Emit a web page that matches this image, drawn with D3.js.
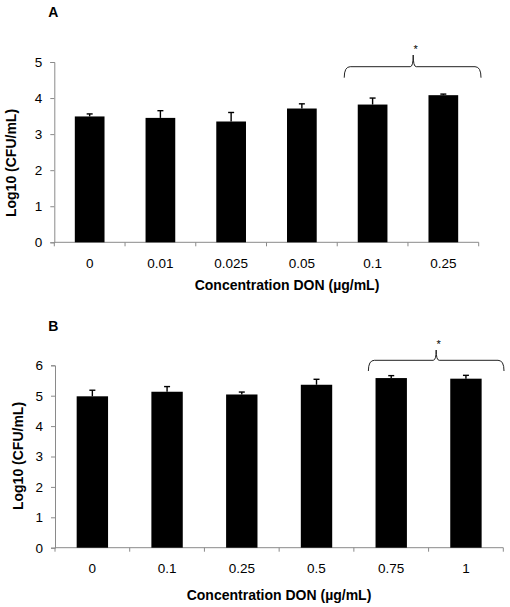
<!DOCTYPE html>
<html>
<head>
<meta charset="utf-8">
<script src="https://cdn.jsdelivr.net/npm/d3@7"></script>
<style>
  html, body { margin: 0; padding: 0; background: #fff; }
  svg { display: block; }
  text { font-family: "Liberation Sans", Arial, sans-serif; fill: #000; }
</style>
</head>
<body>
<svg id="chart" width="510" height="607"></svg>
<script>
// ---- Data ----
const categoriesA = ["0", "0.01", "0.025", "0.05", "0.1", "0.25"];
const meansA      = [3.49, 3.45, 3.35, 3.71, 3.82, 4.08];
const errorsA     = [0.07, 0.20, 0.25, 0.13, 0.18, 0.03];
const yTicksA     = [0, 1, 2, 3, 4, 5];

const categoriesB = ["0", "0.1", "0.25", "0.5", "0.75", "1"];
const meansB      = [4.98, 5.13, 5.04, 5.36, 5.58, 5.56];
const errorsB     = [0.20, 0.17, 0.08, 0.18, 0.08, 0.11];
const yTicksB     = [0, 1, 2, 3, 4, 5, 6];

const panelLabels = ["A", "B"];
const xTitle = "Concentration DON (µg/mL)";
const yTitle = "Log10 (CFU/mL)";
const sigGroupA = ["0.1", "0.25"];
const sigGroupB = ["0.75", "1"];

const svg = d3.select("#chart");

function drawPanel(cfg) {
  const g = svg.append("g");
  const x = d3.scaleBand()
    .domain(cfg.categories)
    .range(cfg.xRange)
    .paddingInner(0.58)
    .paddingOuter(0.29);
  const y = d3.scaleLinear().domain(cfg.yDomain).range(cfg.yRange);
  const step = x.step();
  const x0 = cfg.xRange[0], x1 = cfg.xRange[1];
  const axisColor = "#8a8a8a";

  // y axis
  const yAxis = d3.axisLeft(y).tickValues(cfg.yTicks).tickSize(4).tickPadding(8).tickFormat(d3.format("d"));
  const ya = g.append("g").attr("transform", `translate(${x0},0)`).call(yAxis);
  ya.select(".domain").attr("stroke", axisColor);
  ya.selectAll(".tick line").attr("stroke", axisColor);
  ya.selectAll(".tick text").attr("font-size", 13.5).attr("fill", "#000");

  // x axis baseline and ticks at band boundaries
  g.append("line")
    .attr("x1", x0).attr("x2", x1)
    .attr("y1", y(0)).attr("y2", y(0))
    .attr("stroke", axisColor);
  g.selectAll(".xtick").data(d3.range(cfg.categories.length + 1)).join("line")
    .attr("x1", i => x0 + i * step).attr("x2", i => x0 + i * step)
    .attr("y1", y(0)).attr("y2", y(0) + 4)
    .attr("stroke", axisColor);
  g.selectAll(".xlab").data(cfg.categories).join("text")
    .attr("x", d => x(d) + x.bandwidth() / 2)
    .attr("y", cfg.xLabelY)
    .attr("text-anchor", "middle")
    .attr("font-size", 13.5)
    .text(d => d);

  // bars
  g.selectAll(".bar").data(cfg.categories).join("rect")
    .attr("x", d => x(d))
    .attr("width", x.bandwidth())
    .attr("y", (d, i) => y(cfg.means[i]))
    .attr("height", (d, i) => y(0) - y(cfg.means[i]))
    .attr("fill", "#000");

  // error bars (upper only)
  cfg.categories.forEach((d, i) => {
    const cx = x(d) + x.bandwidth() / 2;
    const top = y(cfg.means[i] + cfg.errors[i]);
    g.append("line").attr("x1", cx).attr("x2", cx)
      .attr("y1", y(cfg.means[i])).attr("y2", top)
      .attr("stroke", "#000").attr("stroke-width", 1.4);
    g.append("line").attr("x1", cx - 3).attr("x2", cx + 3)
      .attr("y1", top).attr("y2", top)
      .attr("stroke", "#000").attr("stroke-width", 1.4);
  });

  // significance brace
  const iL = cfg.categories.indexOf(cfg.sig[0]);
  const iR = cfg.categories.indexOf(cfg.sig[1]);
  const L = x0 + iL * step + cfg.braceOff[0];
  const R = x0 + (iR + 1) * step + cfg.braceOff[1];
  const P = (L + R) / 2 + cfg.braceOff[2];
  const yH = cfg.braceY[0], yE = cfg.braceY[1], yP = cfg.braceY[2];
  const path = `M${L},${yE} Q${L},${yH} ${L + 6},${yH} L${P - 3},${yH} Q${P},${yH} ${P},${yP} ` +
               `Q${P},${yH} ${P + 3},${yH} L${R - 6},${yH} Q${R},${yH} ${R},${yE}`;
  g.append("path").attr("d", path).attr("fill", "none").attr("stroke", "#222").attr("stroke-width", 1);
  g.append("text").attr("x", P + 2.5).attr("y", yP - 2).attr("text-anchor", "middle")
    .attr("font-size", 11).text("*");

  // titles
  g.append("text").attr("x", 48.3).attr("y", cfg.labelY)
    .attr("font-size", 14).attr("font-weight", "bold").text(cfg.label);
  g.append("text")
    .attr("transform", `translate(${cfg.yTitlePos[0]},${cfg.yTitlePos[1]}) rotate(-90)`)
    .attr("text-anchor", "middle").attr("dy", "0.35em")
    .attr("font-size", 14).attr("font-weight", "bold").text(yTitle);
  g.append("text").attr("x", cfg.xTitlePos[0]).attr("y", cfg.xTitlePos[1])
    .attr("text-anchor", "middle")
    .attr("font-size", 14).attr("font-weight", "bold").text(xTitle);
}

drawPanel({
  label: panelLabels[0], labelY: 17,
  categories: categoriesA, means: meansA, errors: errorsA, yTicks: yTicksA,
  xRange: [54.3, 478.7], yDomain: [0, 5], yRange: [242.3, 62],
  xLabelY: 268.3,
  sig: sigGroupA, braceOff: [7, 2.3, 0.6], braceY: [66.7, 77.7, 55],
  yTitlePos: [11.5, 163], xTitlePos: [287, 289.5]
});

drawPanel({
  label: panelLabels[1], labelY: 331,
  categories: categoriesB, means: meansB, errors: errorsB, yTicks: yTicksB,
  xRange: [55, 503.3], yDomain: [0, 6], yRange: [547.7, 365.3],
  xLabelY: 573.3,
  sig: sigGroupB, braceOff: [14.5, 0.7, 0], braceY: [360.3, 371, 350],
  yTitlePos: [18.3, 456], xTitlePos: [279, 599.5]
});
</script>
</body>
</html>
